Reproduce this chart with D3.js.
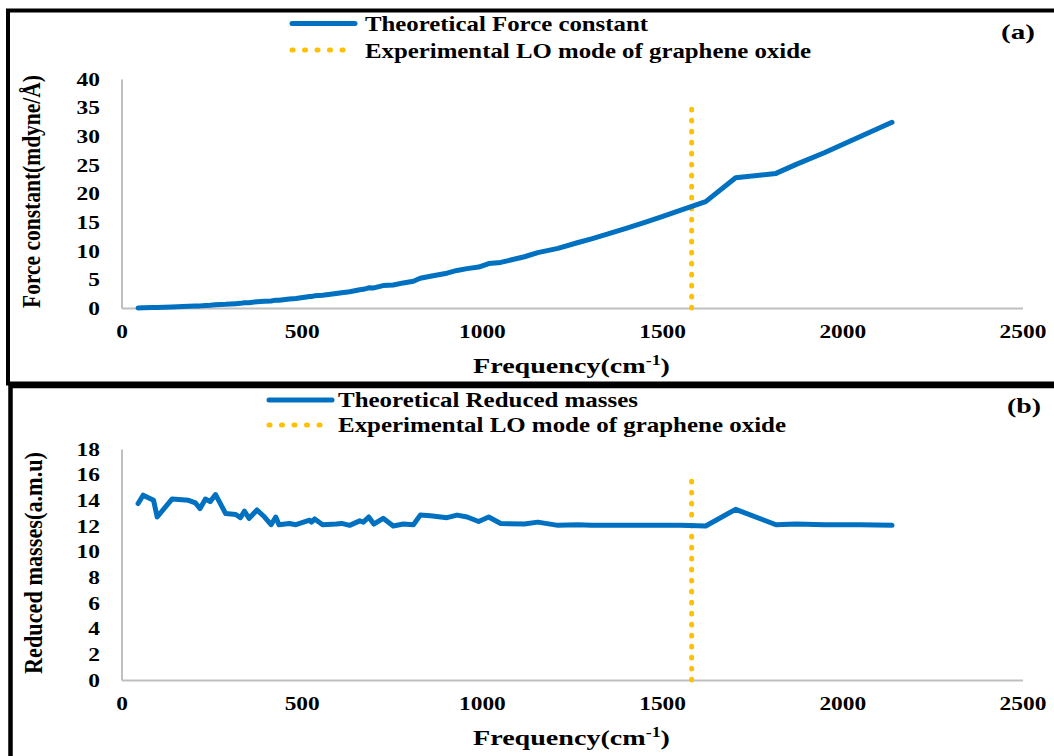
<!DOCTYPE html>
<html>
<head>
<meta charset="utf-8">
<script src="https://cdn.jsdelivr.net/npm/d3@7"></script>
<style>
  html, body { margin: 0; padding: 0; background: #fff; }
  svg { display: block; }
</style>
</head>
<body>
<div id="chart"></div>
<script>
// ---------------- data ----------------
const frequency = [46, 60, 89, 99, 140, 186, 205, 218, 233, 246, 261, 289, 317, 330, 341, 354, 376, 397, 415, 428,
  437, 466, 484, 522, 527, 536, 558, 596, 611, 633, 661, 671, 686, 700, 726, 754, 782, 810, 829, 857,
  903, 931, 959, 991, 1019, 1052, 1118, 1155, 1211, 1267, 1304, 1350, 1400, 1450, 1500, 1550, 1621, 1704, 1816, 1872,
  1950, 2050, 2138];
const forceConstant = [0.02, 0.03, 0.07, 0.07, 0.16, 0.29, 0.34, 0.37, 0.45, 0.50, 0.58, 0.64, 0.76, 0.81, 0.90, 0.93, 1.10, 1.18, 1.23, 1.37,
  1.36, 1.56, 1.67, 2.00, 2.01, 2.12, 2.22, 2.54, 2.68, 2.85, 3.19, 3.26, 3.52, 3.51, 3.91, 4.02, 4.38, 4.68, 5.20, 5.54,
  6.08, 6.56, 6.88, 7.15, 7.77, 7.96, 8.95, 9.67, 10.41, 11.44, 12.07, 12.94, 13.92, 14.93, 15.97, 17.06, 18.58, 22.75, 23.51, 25.09,
  27.11, 29.96, 32.45];
const reducedMass = [13.75, 14.4, 14.0, 12.7, 14.1, 14.0, 13.8, 13.36, 14.1, 13.9, 14.45, 12.97, 12.9, 12.65, 13.15, 12.6, 13.25, 12.7, 12.1, 12.7,
  12.1, 12.2, 12.1, 12.45, 12.3, 12.55, 12.1, 12.15, 12.2, 12.05, 12.4, 12.3, 12.7, 12.15, 12.6, 12.0, 12.15, 12.1, 12.85, 12.8,
  12.65, 12.85, 12.7, 12.35, 12.7, 12.2, 12.15, 12.3, 12.05, 12.1, 12.05, 12.05, 12.05, 12.05, 12.05, 12.05, 12.0, 13.3, 12.1, 12.15,
  12.1, 12.1, 12.05];
const loModeX = [1582, 1582];
const loModeForce = [0, 35];
const loModeMass = [0, 16];
const xTicks = [0, 500, 1000, 1500, 2000, 2500];
const forceTicks = [0, 5, 10, 15, 20, 25, 30, 35, 40];
const massTicks = [0, 2, 4, 6, 8, 10, 12, 14, 16, 18];

// ---------------- drawing ----------------
const W = 1054, H = 756;
const FONT = '"Liberation Serif", "Times New Roman", Times, serif';
const BLUE = "#0070C0", GOLD = "#FFC000", AXIS = "#BFBFBF";
const svg = d3.select("#chart").append("svg").attr("width", W).attr("height", H)
  .attr("font-family", FONT).attr("font-weight", "bold");
svg.append("rect").attr("width", W).attr("height", H).attr("fill", "#fff");

// panel frames
svg.append("rect").attr("x", 8).attr("y", 10.5).attr("width", 1100).attr("height", 373)
  .attr("fill", "none").attr("stroke", "#000").attr("stroke-width", 4);
svg.append("rect").attr("x", 10.5).attr("y", 386).attr("width", 1100).attr("height", 500)
  .attr("fill", "none").attr("stroke", "#000").attr("stroke-width", 4.5);

const x = d3.scaleLinear().domain([0, 2500]).range([121.5, 1022.5]);

function hText(str, x0, y0, size, len) {
  return svg.append("text").attr("x", x0).attr("y", y0).attr("font-size", size)
    .attr("font-family", FONT).attr("font-weight", "bold").attr("fill", "#000")
    .attr("textLength", len).attr("lengthAdjust", "spacingAndGlyphs").text(str);
}
function freqTitle(x0, y0) {
  const t = svg.append("text").attr("x", x0).attr("y", y0).attr("font-size", 22)
    .attr("font-family", FONT).attr("font-weight", "bold").attr("fill", "#000")
    .attr("textLength", 197).attr("lengthAdjust", "spacingAndGlyphs");
  t.append("tspan").text("Frequency(cm");
  t.append("tspan").attr("dy", -8).attr("font-size", 14).text("-1");
  t.append("tspan").attr("dy", 8).text(")");
}
function vText(str, cx, cy, size, len) {
  svg.append("text").attr("transform", `translate(${cx},${cy}) rotate(-90) scale(1,1.16)`)
    .attr("text-anchor", "middle").attr("font-size", size)
    .attr("font-family", FONT).attr("font-weight", "bold").attr("fill", "#000")
    .attr("textLength", len).attr("lengthAdjust", "spacingAndGlyphs").text(str);
}

function panel(cfg) {
  const y = d3.scaleLinear().domain(cfg.yDomain).range(cfg.yRange);
  const gy = svg.append("g").attr("transform", `translate(${x.range()[0]},0)`)
    .call(d3.axisLeft(y).tickValues(cfg.yTicks).tickSize(0).tickSizeOuter(0));
  const gx = svg.append("g").attr("transform", `translate(0,${cfg.yRange[0]})`)
    .call(d3.axisBottom(x).tickValues(xTicks).tickSize(0).tickSizeOuter(0).tickFormat(d3.format("d")));
  [gx, gy].forEach(g => {
    g.attr("font-family", FONT).attr("font-size", 18).attr("font-weight", "bold");
    g.select(".domain").attr("stroke", AXIS).attr("stroke-width", 2);
    g.selectAll("text").attr("font-size", 18).attr("font-family", FONT)
      .attr("font-weight", "bold").attr("fill", "#000");
  });
  gy.selectAll(".tick text").attr("x", 0).attr("dy", "0.35em")
    .attr("transform", "translate(-21.5,0) scale(1.3,1)");
  gx.selectAll(".tick text").attr("y", 0).attr("dy", 0)
    .attr("transform", "translate(0,30) scale(1.3,1)");

  // vertical dotted LO line
  const lo = loModeX.map((v, i) => [v, cfg.loY[i]]);
  svg.append("path").datum(lo)
    .attr("d", d3.line().x(d => x(d[0])).y(d => y(d[1])))
    .attr("fill", "none").attr("stroke", GOLD).attr("stroke-width", 5)
    .attr("stroke-linecap", "round").attr("stroke-dasharray", "0.8 10.2");

  // data line
  const pts = frequency.map((f, i) => [f, cfg.values[i]]);
  svg.append("path").datum(pts)
    .attr("d", d3.line().x(d => x(d[0])).y(d => y(d[1])))
    .attr("fill", "none").attr("stroke", BLUE).attr("stroke-width", 5)
    .attr("stroke-linejoin", "round").attr("stroke-linecap", "round");

  // legend
  const L = cfg.legend;
  svg.append("line").attr("x1", L.x1).attr("x2", L.x2).attr("y1", L.y1).attr("y2", L.y1)
    .attr("stroke", BLUE).attr("stroke-width", 5).attr("stroke-linecap", "round");
  svg.append("line").attr("x1", L.x1).attr("x2", L.x2 - 2).attr("y1", L.y2).attr("y2", L.y2)
    .attr("stroke", GOLD).attr("stroke-width", 5).attr("stroke-linecap", "round")
    .attr("stroke-dasharray", "1 11.5");
  hText(cfg.seriesName, L.tx, L.b1, 21, L.len1);
  hText("Experimental LO mode of graphene oxide", L.tx, L.b2, 21, L.len2);

  hText(cfg.tag, cfg.tagX, cfg.tagY, 22, 34);
  freqTitle(473, cfg.xTitleY);
  vText(cfg.yTitle, cfg.yTitleX, cfg.yTitleCY, 21.5, cfg.yTitleLen);
}

panel({
  yDomain: [0, 40], yRange: [308, 79], yTicks: forceTicks, values: forceConstant, loY: loModeForce,
  seriesName: "Theoretical Force constant",
  legend: { x1: 292, x2: 355, y1: 23.5, y2: 50, tx: 365, b1: 31, b2: 57.5, len1: 283, len2: 446 },
  tag: "(a)", tagX: 1001, tagY: 39, xTitleY: 373,
  yTitle: "Force constant(mdyne/Å)", yTitleX: 39.5, yTitleCY: 191.5, yTitleLen: 233
});
panel({
  yDomain: [0, 18], yRange: [680, 449], yTicks: massTicks, values: reducedMass, loY: loModeMass,
  seriesName: "Theoretical Reduced masses",
  legend: { x1: 269, x2: 332, y1: 400, y2: 425, tx: 338, b1: 407, b2: 432, len1: 300, len2: 448 },
  tag: "(b)", tagX: 1007, tagY: 413, xTitleY: 745,
  yTitle: "Reduced masses(a.m.u)", yTitleX: 42, yTitleCY: 563, yTitleLen: 222
});
</script>
</body>
</html>
